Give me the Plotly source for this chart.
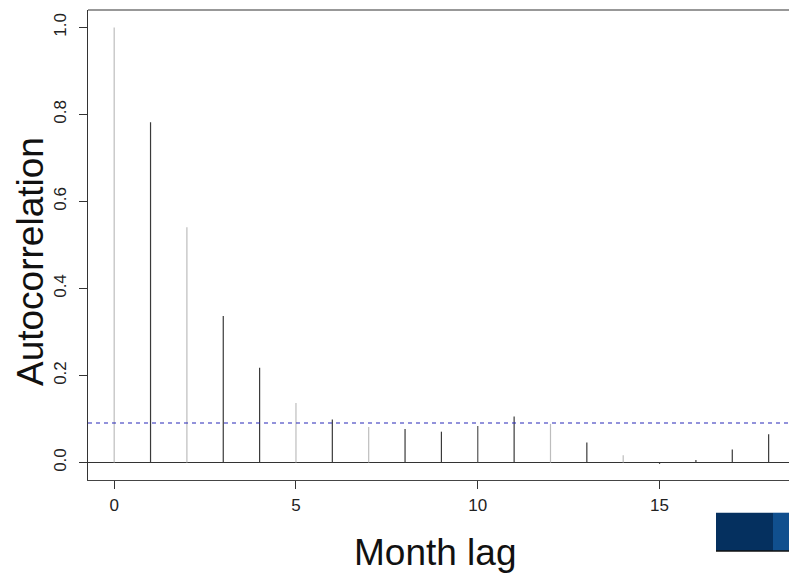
import plotly.graph_objects as go

lags = list(range(0, 19))
acf = [1.0, 0.782, 0.541, 0.337, 0.218, 0.137, 0.099, 0.082, 0.077, 0.071,
       0.084, 0.106, 0.089, 0.046, 0.017, -0.003, 0.006, 0.030, 0.065]
conf_bound = 0.091
x_ticks = [0, 5, 10, 15]
y_ticks = [0.0, 0.2, 0.4, 0.6, 0.8, 1.0]

# anti-aliasing look of the original: some lines lighter than others
shade = ["#bdbdbd", "#3a3a3a", "#bdbdbd", "#3a3a3a", "#3a3a3a", "#bdbdbd", "#3a3a3a",
         "#bdbdbd", "#3a3a3a", "#3a3a3a", "#555555", "#3a3a3a", "#bdbdbd", "#3a3a3a",
         "#bdbdbd", "#3a3a3a", "#3a3a3a", "#3a3a3a", "#3a3a3a"]

fig = go.Figure()
for lag, v, c in zip(lags, acf, shade):
    fig.add_trace(go.Scatter(x=[lag, lag], y=[0, v], mode="lines",
                             line=dict(color=c, width=1.2), showlegend=False,
                             hoverinfo="skip"))

fig.add_trace(go.Scatter(x=[-0.72, 18.56], y=[conf_bound, conf_bound], mode="lines",
                         line=dict(color="#2626b8", width=1.2, dash="4px,4px"),
                         showlegend=False, hoverinfo="skip"))

font = "Liberation Sans, Arial, Helvetica, sans-serif"
fig.update_layout(
    width=789, height=574,
    margin=dict(l=88, r=0, t=10, b=94),
    plot_bgcolor="white", paper_bgcolor="white",
    font=dict(family=font, color="#222222"),
    xaxis=dict(range=[-0.72, 18.56], tickvals=x_ticks, ticktext=[str(t) for t in x_ticks],
               showgrid=False, zeroline=False, showline=True, linecolor="#444444",
               linewidth=1.2, ticks="outside", ticklen=8, tickcolor="#333333",
               tickfont=dict(size=17), ticklabelstandoff=1),
    yaxis=dict(range=[-0.04, 1.04], tickvals=y_ticks,
               ticktext=["%.1f" % t for t in y_ticks],
               showgrid=False, zeroline=True, zerolinecolor="#333333", zerolinewidth=1.2,
               showline=True, linecolor="#333333", linewidth=1.2,
               ticks="outside", ticklen=8, tickcolor="#333333",
               tickangle=-90, tickfont=dict(size=17), ticklabelstandoff=6),
    shapes=[
        dict(type="line", xref="paper", yref="paper", x0=0, x1=1, y0=1, y1=1,
             line=dict(color="#333333", width=1.2)),
        dict(type="rect", xref="paper", yref="paper",
             x0=(716 - 88) / 701, x1=(773 - 88) / 701, y0=-0.151, y1=-0.0696,
             fillcolor="#05305f", line=dict(width=0)),
        dict(type="rect", xref="paper", yref="paper",
             x0=(773 - 88) / 701, x1=1, y0=-0.151, y1=-0.0696,
             fillcolor="#104f8e", line=dict(width=0)),
        dict(type="line", xref="paper", yref="paper",
             x0=(716 - 88) / 701, x1=1, y0=-0.151, y1=-0.151,
             line=dict(color="#111111", width=1.5)),
    ],
    annotations=[
        dict(text="Month lag", xref="paper", yref="paper", x=(435 - 88) / 701, y=(480 - 552) / 470,
             xanchor="center", yanchor="middle", showarrow=False,
             font=dict(size=37, family=font, color="#111111")),
        dict(text="Autocorrelation", xref="paper", yref="paper", x=(30 - 88) / 701,
             y=(480 - 262) / 470, xanchor="center", yanchor="middle", showarrow=False,
             textangle=-90, font=dict(size=37, family=font, color="#111111")),
    ],
)

fig.write_html("out.html")
